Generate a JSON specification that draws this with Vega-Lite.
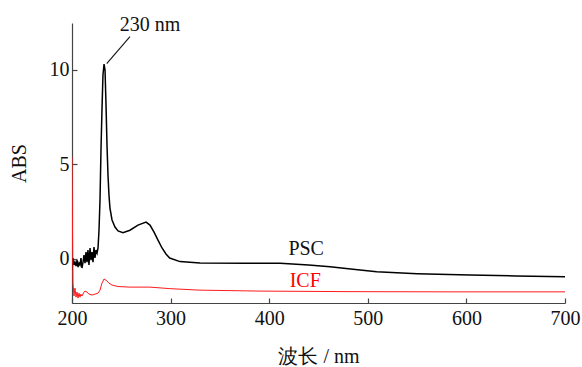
{
  "$schema": "https://vega.github.io/schema/vega-lite/v6.json",
  "width": 493,
  "height": 280,
  "autosize": "none",
  "padding": {"left": 72, "top": 23, "right": 17, "bottom": 64},
  "background": "white",
  "config": {
    "view": {"stroke": null},
    "font": "Liberation Serif",
    "axis": {
      "grid": false,
      "labelFlush": false,
      "domainColor": "#444444",
      "domainWidth": 1.2,
      "tickColor": "#444444",
      "tickWidth": 1.2,
      "tickSize": -5,
      "labelFont": "Liberation Serif",
      "labelFontSize": 20,
      "labelColor": "#111111",
      "titleFont": "Liberation Serif",
      "titleFontSize": 20,
      "titleFontWeight": "normal",
      "titleColor": "#111111"
    }
  },
  "datasets": {
    "spectra": [
      {"sample": "PSC", "nm": 200.0, "v": -0.61},
      {"sample": "PSC", "nm": 201.0, "v": 0.03},
      {"sample": "PSC", "nm": 202.0, "v": -0.34},
      {"sample": "PSC", "nm": 203.0, "v": -0.19},
      {"sample": "PSC", "nm": 204.1, "v": -0.40},
      {"sample": "PSC", "nm": 205.1, "v": -0.08},
      {"sample": "PSC", "nm": 206.1, "v": -0.45},
      {"sample": "PSC", "nm": 207.1, "v": -0.24},
      {"sample": "PSC", "nm": 208.1, "v": -0.34},
      {"sample": "PSC", "nm": 209.1, "v": 0.03},
      {"sample": "PSC", "nm": 210.1, "v": -0.50},
      {"sample": "PSC", "nm": 211.2, "v": -0.19},
      {"sample": "PSC", "nm": 212.2, "v": 0.19},
      {"sample": "PSC", "nm": 213.2, "v": -0.24},
      {"sample": "PSC", "nm": 214.2, "v": 0.34},
      {"sample": "PSC", "nm": 215.2, "v": -0.19},
      {"sample": "PSC", "nm": 216.2, "v": 0.45},
      {"sample": "PSC", "nm": 217.2, "v": -0.34},
      {"sample": "PSC", "nm": 218.3, "v": 0.56},
      {"sample": "PSC", "nm": 219.3, "v": -0.08},
      {"sample": "PSC", "nm": 220.3, "v": 0.34},
      {"sample": "PSC", "nm": 221.3, "v": -0.19},
      {"sample": "PSC", "nm": 222.3, "v": 0.61},
      {"sample": "PSC", "nm": 223.3, "v": 0.03},
      {"sample": "PSC", "nm": 224.3, "v": 0.45},
      {"sample": "PSC", "nm": 225.4, "v": 0.29},
      {"sample": "PSC", "nm": 226.4, "v": 0.56},
      {"sample": "PSC", "nm": 227.4, "v": 1.51},
      {"sample": "PSC", "nm": 228.4, "v": 3.10},
      {"sample": "PSC", "nm": 229.4, "v": 5.74},
      {"sample": "PSC", "nm": 230.4, "v": 7.86},
      {"sample": "PSC", "nm": 231.4, "v": 9.71},
      {"sample": "PSC", "nm": 232.5, "v": 10.29},
      {"sample": "PSC", "nm": 233.5, "v": 9.97},
      {"sample": "PSC", "nm": 234.5, "v": 8.12},
      {"sample": "PSC", "nm": 235.5, "v": 5.99},
      {"sample": "PSC", "nm": 236.5, "v": 4.42},
      {"sample": "PSC", "nm": 237.5, "v": 3.36},
      {"sample": "PSC", "nm": 238.5, "v": 2.67},
      {"sample": "PSC", "nm": 240.6, "v": 2.04},
      {"sample": "PSC", "nm": 243.6, "v": 1.67},
      {"sample": "PSC", "nm": 246.7, "v": 1.46},
      {"sample": "PSC", "nm": 251.7, "v": 1.37},
      {"sample": "PSC", "nm": 258.8, "v": 1.50},
      {"sample": "PSC", "nm": 266.9, "v": 1.77},
      {"sample": "PSC", "nm": 275.1, "v": 1.93},
      {"sample": "PSC", "nm": 279.1, "v": 1.77},
      {"sample": "PSC", "nm": 283.2, "v": 1.40},
      {"sample": "PSC", "nm": 287.2, "v": 0.98},
      {"sample": "PSC", "nm": 291.3, "v": 0.56},
      {"sample": "PSC", "nm": 295.3, "v": 0.24},
      {"sample": "PSC", "nm": 299.1, "v": 0.03},
      {"sample": "PSC", "nm": 309.5, "v": -0.16},
      {"sample": "PSC", "nm": 329.8, "v": -0.24},
      {"sample": "PSC", "nm": 377.0, "v": -0.25},
      {"sample": "PSC", "nm": 411.0, "v": -0.25},
      {"sample": "PSC", "nm": 440.0, "v": -0.34},
      {"sample": "PSC", "nm": 461.7, "v": -0.43},
      {"sample": "PSC", "nm": 485.0, "v": -0.57},
      {"sample": "PSC", "nm": 509.0, "v": -0.70},
      {"sample": "PSC", "nm": 550.0, "v": -0.80},
      {"sample": "PSC", "nm": 603.6, "v": -0.87},
      {"sample": "PSC", "nm": 650.0, "v": -0.92},
      {"sample": "PSC", "nm": 700.0, "v": -0.96},
      {"sample": "ICF", "nm": 200.0, "v": 5.37},
      {"sample": "ICF", "nm": 200.5, "v": 1.5},
      {"sample": "ICF", "nm": 201.0, "v": -1.30},
      {"sample": "ICF", "nm": 202.0, "v": -1.98},
      {"sample": "ICF", "nm": 203.0, "v": -1.56},
      {"sample": "ICF", "nm": 204.1, "v": -2.04},
      {"sample": "ICF", "nm": 205.1, "v": -1.77},
      {"sample": "ICF", "nm": 206.1, "v": -2.09},
      {"sample": "ICF", "nm": 207.1, "v": -1.83},
      {"sample": "ICF", "nm": 208.1, "v": -2.04},
      {"sample": "ICF", "nm": 209.1, "v": -1.88},
      {"sample": "ICF", "nm": 210.1, "v": -1.98},
      {"sample": "ICF", "nm": 212.2, "v": -1.77},
      {"sample": "ICF", "nm": 213.2, "v": -1.72},
      {"sample": "ICF", "nm": 215.2, "v": -1.77},
      {"sample": "ICF", "nm": 217.2, "v": -1.88},
      {"sample": "ICF", "nm": 220.3, "v": -1.93},
      {"sample": "ICF", "nm": 223.3, "v": -1.88},
      {"sample": "ICF", "nm": 226.4, "v": -1.83},
      {"sample": "ICF", "nm": 228.4, "v": -1.67},
      {"sample": "ICF", "nm": 230.4, "v": -1.30},
      {"sample": "ICF", "nm": 232.5, "v": -1.08},
      {"sample": "ICF", "nm": 234.5, "v": -1.14},
      {"sample": "ICF", "nm": 237.5, "v": -1.30},
      {"sample": "ICF", "nm": 240.6, "v": -1.40},
      {"sample": "ICF", "nm": 246.7, "v": -1.48},
      {"sample": "ICF", "nm": 258.8, "v": -1.51},
      {"sample": "ICF", "nm": 279.1, "v": -1.51},
      {"sample": "ICF", "nm": 299.1, "v": -1.59},
      {"sample": "ICF", "nm": 329.8, "v": -1.67},
      {"sample": "ICF", "nm": 390.7, "v": -1.72},
      {"sample": "ICF", "nm": 481.9, "v": -1.75},
      {"sample": "ICF", "nm": 583.4, "v": -1.76},
      {"sample": "ICF", "nm": 700.0, "v": -1.76}
    ],
    "notes": [
      {"nm": 279.1, "v": 12.33, "label": "230 nm", "tc": "#111111"},
      {"nm": 437.5, "v": 0.50, "label": "PSC", "tc": "#111111"},
      {"nm": 436.5, "v": -1.19, "label": "ICF", "tc": "#ff0000"}
    ],
    "leader": [
      {"nm": 235.2, "v": 10.31, "nm2": 258.8, "v2": 11.74}
    ]
  },
  "layer": [
    {
      "data": {"name": "spectra"},
      "mark": {"type": "line", "clip": true},
      "encoding": {
        "x": {
          "field": "nm", "type": "quantitative",
          "scale": {"domain": [200, 700], "nice": false},
          "axis": {"values": [200, 300, 400, 500, 600, 700], "title": "波长 / nm", "titlePadding": 18, "labelPadding": 10}
        },
        "y": {
          "field": "v", "type": "quantitative",
          "scale": {"domain": [-2.35, 12.46], "nice": false, "zero": false},
          "axis": {"values": [0, 5, 10], "title": "ABS", "titlePadding": 20, "labelPadding": 8}
        },
        "color": {"field": "sample", "type": "nominal", "scale": {"domain": ["PSC", "ICF"], "range": ["#000000", "#ff1a1a"]}, "legend": null},
        "strokeWidth": {"field": "sample", "type": "nominal", "scale": {"domain": ["PSC", "ICF"], "range": [1.5, 1.0]}, "legend": null}
      }
    },
    {
      "data": {"name": "leader"},
      "mark": {"type": "rule", "color": "#111111", "strokeWidth": 1.1},
      "encoding": {
        "x": {"field": "nm", "type": "quantitative"},
        "y": {"field": "v", "type": "quantitative"},
        "x2": {"field": "nm2"},
        "y2": {"field": "v2"}
      }
    },
    {
      "data": {"name": "notes"},
      "mark": {"type": "text", "font": "Liberation Serif", "fontSize": 20, "align": "center", "baseline": "middle"},
      "encoding": {
        "x": {"field": "nm", "type": "quantitative"},
        "y": {"field": "v", "type": "quantitative"},
        "text": {"field": "label"},
        "color": {"field": "tc", "type": "nominal", "scale": null}
      }
    }
  ]
}
